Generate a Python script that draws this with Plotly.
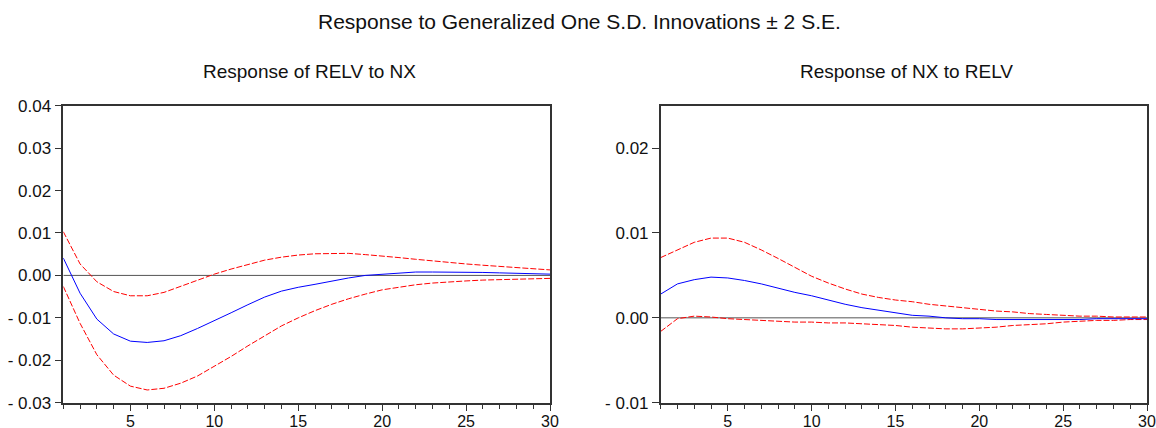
import plotly.graph_objects as go

steps = list(range(1, 31))

# Response of RELV to NX
relv_nx = [0.0041, -0.0042, -0.0103, -0.0138, -0.0155, -0.0158, -0.0154, -0.0142, -0.0125, -0.0107,
           -0.0088, -0.0069, -0.0051, -0.0037, -0.0028, -0.0021, -0.0013, -0.0006, 0.0000, 0.0003,
           0.0006, 0.0008, 0.0008, 0.0008, 0.0008, 0.0007, 0.0006, 0.0005, 0.0004, 0.0003]
relv_nx_up = [0.0103, 0.0027, -0.0015, -0.0038, -0.0048, -0.0048, -0.0040, -0.0026, -0.0012, 0.0003,
              0.0015, 0.0026, 0.0036, 0.0043, 0.0048, 0.0051, 0.0052, 0.0052, 0.0049, 0.0046,
              0.0042, 0.0038, 0.0034, 0.0030, 0.0027, 0.0024, 0.0021, 0.0018, 0.0015, 0.0013]
relv_nx_lo = [-0.0026, -0.0113, -0.0187, -0.0235, -0.0261, -0.0270, -0.0266, -0.0254, -0.0237, -0.0215,
              -0.0191, -0.0166, -0.0142, -0.0119, -0.0100, -0.0083, -0.0068, -0.0055, -0.0044, -0.0034,
              -0.0028, -0.0022, -0.0018, -0.0015, -0.0013, -0.0011, -0.0010, -0.0009, -0.0008, -0.0007]

# Response of NX to RELV
nx_relv = [0.0028, 0.0040, 0.0045, 0.0048, 0.0047, 0.0044, 0.0040, 0.0035, 0.0030, 0.0026,
           0.0021, 0.0016, 0.0012, 0.0009, 0.0006, 0.0003, 0.0002, 0.0000, -0.0001, -0.0001,
           -0.0002, -0.0002, -0.0002, -0.0002, -0.0002, -0.0002, -0.0001, -0.0001, -0.0001, -0.0001]
nx_relv_up = [0.0071, 0.0080, 0.0089, 0.0094, 0.0094, 0.0089, 0.0080, 0.0070, 0.0060, 0.0049,
              0.0041, 0.0034, 0.0028, 0.0024, 0.0021, 0.0019, 0.0016, 0.0014, 0.0012, 0.0010,
              0.0008, 0.0007, 0.0005, 0.0004, 0.0003, 0.0002, 0.0002, 0.0001, 0.0001, 0.0001]
nx_relv_lo = [-0.0016, -0.0001, 0.0002, 0.0001, -0.0001, -0.0002, -0.0003, -0.0004, -0.0005, -0.0005,
              -0.0006, -0.0006, -0.0007, -0.0008, -0.0009, -0.0011, -0.0012, -0.0013, -0.0013, -0.0012,
              -0.0011, -0.0009, -0.0008, -0.0007, -0.0005, -0.0004, -0.0003, -0.0003, -0.0002, -0.0002]

left_yticks = [-0.03, -0.02, -0.01, 0.0, 0.01, 0.02, 0.03, 0.04]
left_ylabels = ["- 0.03", "- 0.02", "- 0.01", "0.00", "0.01", "0.02", "0.03", "0.04"]
right_yticks = [-0.01, 0.0, 0.01, 0.02]
right_ylabels = ["- 0.01", "0.00", "0.01", "0.02"]
xticks = [5, 10, 15, 20, 25, 30]

main_title = "Response to Generalized One S.D. Innovations \u00b1 2 S.E."
sub_titles = ["Response of RELV to NX", "Response of NX to RELV"]

FONT = "Liberation Sans, Arial, sans-serif"
W, H = 1156, 428

fig = go.Figure()

panels = [
    (relv_nx, relv_nx_up, relv_nx_lo, "x", "y"),
    (nx_relv, nx_relv_up, nx_relv_lo, "x2", "y2"),
]
for mid, up, lo, xa, ya in panels:
    fig.add_trace(go.Scatter(x=[1, 30], y=[0, 0], mode="lines", xaxis=xa, yaxis=ya,
                             line=dict(color="#555555", width=1), showlegend=False, hoverinfo="skip"))
    fig.add_trace(go.Scatter(x=steps, y=up, mode="lines", xaxis=xa, yaxis=ya,
                             line=dict(color="#ff0000", width=1, dash="6px,2px"), showlegend=False))
    fig.add_trace(go.Scatter(x=steps, y=lo, mode="lines", xaxis=xa, yaxis=ya,
                             line=dict(color="#ff0000", width=1, dash="6px,2px"), showlegend=False))
    fig.add_trace(go.Scatter(x=steps, y=mid, mode="lines", xaxis=xa, yaxis=ya,
                             line=dict(color="#0000ff", width=1), showlegend=False))

ytop = 1 - 105.7 / H
ybot = 1 - 402.7 / H

xcommon = dict(range=[1, 30], tickvals=xticks, ticks="outside", ticklen=7, tickwidth=1,
               tickcolor="#333", showline=True, linecolor="#333", linewidth=1.5, mirror=True,
               showgrid=False, zeroline=False, automargin=False, ticklabelstandoff=-4,
               tickfont=dict(family=FONT, size=16, color="#111"),
               minor=dict(tickvals=list(range(1, 31)), ticks="outside", ticklen=5, tickcolor="#333"))
ycommon = dict(ticks="outside", ticklen=7, tickwidth=1, tickcolor="#333", showline=True,
               linecolor="#333", linewidth=1.5, mirror=True, showgrid=False, zeroline=False,
               automargin=False, tickfont=dict(family=FONT, size=17, color="#111"), ticklabelstandoff=0)

fig.update_layout(
    width=W, height=H, margin=dict(l=0, r=0, t=0, b=0),
    plot_bgcolor="white", paper_bgcolor="white",
    xaxis=dict(domain=[63.3 / W, 550 / W], anchor="y", **xcommon),
    yaxis=dict(domain=[ybot, ytop], anchor="x", range=[-0.03, 0.04], tickvals=left_yticks,
               ticktext=left_ylabels, **ycommon),
    xaxis2=dict(domain=[660.7 / W, 1147 / W], anchor="y2", **xcommon),
    yaxis2=dict(domain=[ybot, ytop], anchor="x2", range=[-0.01, 0.025], tickvals=right_yticks,
                ticktext=right_ylabels, **ycommon),
    annotations=[
        dict(text=main_title, x=579 / W, y=1 - 22 / H, xref="paper", yref="paper",
             xanchor="center", yanchor="middle",
             showarrow=False, font=dict(family=FONT, size=21, color="#111")),
        dict(text=sub_titles[0], x=309 / W, y=1 - 71 / H, xref="paper", yref="paper",
             xanchor="center", yanchor="middle",
             showarrow=False, font=dict(family=FONT, size=19, color="#111")),
        dict(text=sub_titles[1], x=906 / W, y=1 - 71 / H, xref="paper", yref="paper",
             xanchor="center", yanchor="middle",
             showarrow=False, font=dict(family=FONT, size=19, color="#111")),
    ],
)

fig.write_html("out.html")
